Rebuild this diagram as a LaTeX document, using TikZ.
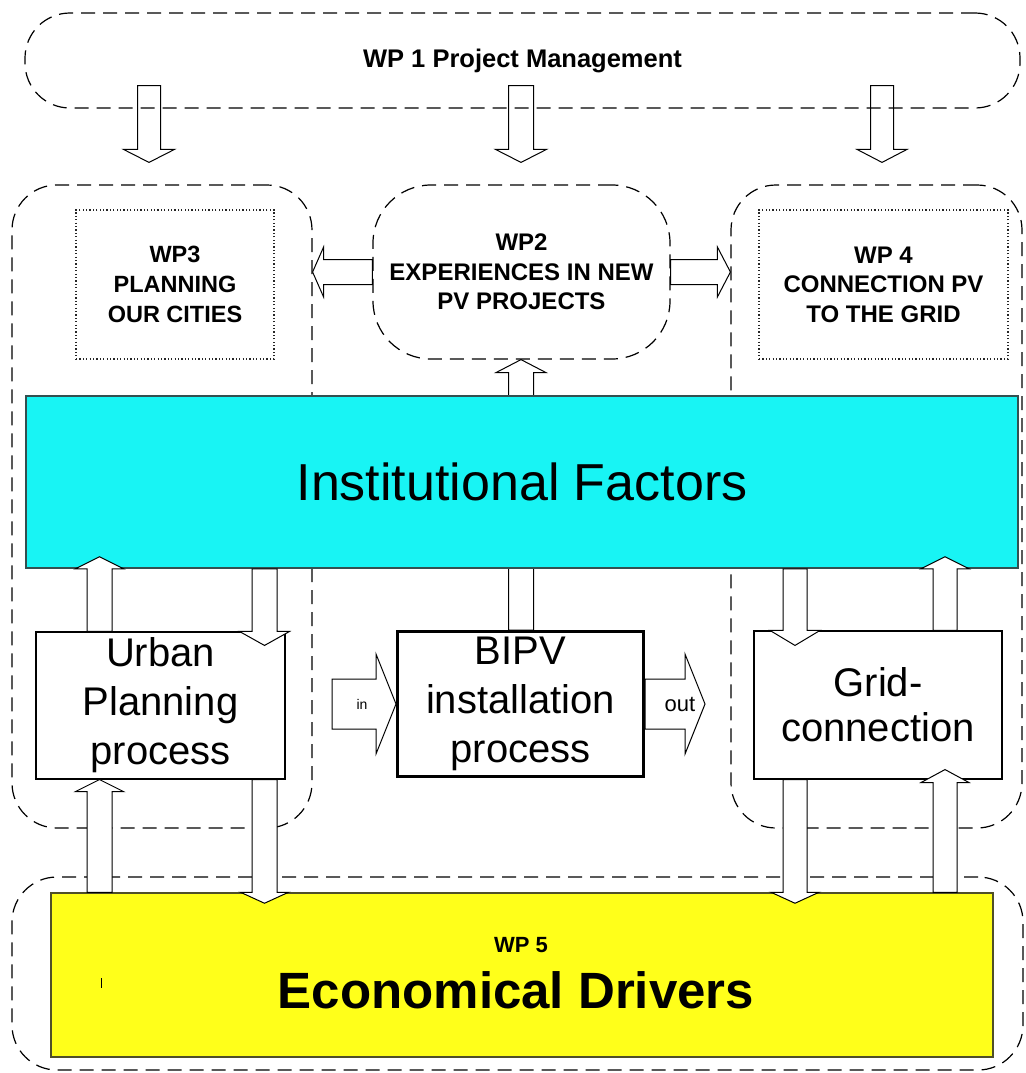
\documentclass[tikz,border=0pt]{standalone}
\usepackage{fontspec}
\setmainfont{Liberation Sans}
\usetikzlibrary{calc}
\pgfdeclarelayer{back}
\pgfsetlayers{back,main}
\definecolor{instcyan}{RGB}{24,244,244}
\definecolor{econyellow}{RGB}{255,255,26}
\definecolor{instedge}{RGB}{50,80,80}
\definecolor{econedge}{RGB}{80,80,40}
\newcommand\fsz[2]{\fontsize{#1}{#2}\selectfont}
% vertical block arrow: from, to, shaft half width, head half width, head length
\newcommand\varr[5]{%
  \draw[blk] let \p1=(#1), \p2=(#2), \n1={ifthenelse(\y2>\y1,1,-1)} in
    ({\x1-#3},\y1) -- ({\x1-#3},{\y2-(\n1)*#5}) -- ({\x1-#4},{\y2-(\n1)*#5}) -- (\x1,\y2)
    -- ({\x1+#4},{\y2-(\n1)*#5}) -- ({\x1+#3},{\y2-(\n1)*#5}) -- ({\x1+#3},\y1) -- cycle;}
% horizontal block arrow
\newcommand\harr[5]{%
  \draw[blk] let \p1=(#1), \p2=(#2), \n1={ifthenelse(\x2>\x1,1,-1)} in
    (\x1,{\y1+#3}) -- ({\x2-(\n1)*#5},{\y1+#3}) -- ({\x2-(\n1)*#5},{\y1+#4}) -- (\x2,\y1)
    -- ({\x2-(\n1)*#5},{\y1-#4}) -- ({\x2-(\n1)*#5},{\y1-#3}) -- (\x1,{\y1-#3}) -- cycle;}
\tikzset{
  box/.style={draw, inner sep=0pt, align=center},
  dashbox/.style={box, draw=black, line width=1.2pt, dash pattern=on 14pt off 8pt, rounded corners=45pt},
  dotbox/.style={box, draw=black!85, line width=1.1pt, dash pattern=on 1.2pt off 2.2pt},
  procbox/.style={box, fill=white, line width=1.1pt, draw=black},
  blk/.style={draw=black, fill=white, line width=1pt, line join=miter},
  wptext/.style={font=\bfseries\fsz{24}{29.5}},
  bigtext/.style={font=\fsz{40}{49}},
}
\begin{document}
\begin{tikzpicture}[x=1pt,y=-1pt]
\useasboundingbox (0,0) rectangle (1025,1073);
% column coordinates
\coordinate (cA) at (99.5,0);
\coordinate (cB) at (264.5,0);
\coordinate (cC) at (795,0);
\coordinate (cD) at (945,0);
\coordinate (cM) at (521,0);
\coordinate (c1) at (149,0);
\coordinate (c2) at (521,0);
\coordinate (c3) at (882,0);

% containers
\node[dashbox, minimum width=995pt, minimum height=95pt] (wp1) at (522.5,60.5)
  {\bfseries\fsz{25.5}{28}WP 1 Project Management};
\node[dashbox, minimum width=300pt, minimum height=643pt] (wp3c) at (162,506.5) {};
\node[dashbox, minimum width=291pt, minimum height=643pt] (wp4c) at (876.5,506.5) {};
\node[dashbox, minimum width=1011pt, minimum height=193pt] (wp5c) at (517.5,973.5) {};
\node[dashbox, rounded corners=58pt, minimum width=297pt, minimum height=174pt, wptext] (wp2) at (521.5,272)
  {WP2\\EXPERIENCES IN NEW\\PV PROJECTS};
\node[dotbox, minimum width=198pt, minimum height=149pt, font=\bfseries\fsz{23.5}{30}] (wp3) at (175,284.5)
  {WP3\\PLANNING\\OUR CITIES};
\node[dotbox, minimum width=249pt, minimum height=149pt, wptext] (wp4) at (883.5,284.5)
  {WP 4\\CONNECTION PV\\TO THE GRID};

% institutional factors
\node[box, fill=instcyan, draw=instedge, line width=1.5pt, minimum width=992pt, minimum height=172pt,
  font=\fsz{52}{60}] (inst) at (522,482) {Institutional Factors};

% process boxes
\node[procbox, minimum width=249pt, minimum height=147pt, bigtext] (urban) at (160.5,705.5)
  {Urban\\Planning\\process};
\node[procbox, line width=3pt, draw=black, minimum width=246pt, minimum height=145pt, bigtext] (bipv) at (520.5,704)
  {BIPV\\installation\\process};
\node[procbox, minimum width=248pt, minimum height=148pt, font=\fsz{40}{45}] (grid) at (878,705)
  {Grid-\\connection};

% economical drivers
\node[box, fill=econyellow, draw=econedge, line width=1.5pt, minimum width=942pt, minimum height=164pt] (econ) at (522,975) {};
\node[font=\bfseries\fsz{22}{26}, inner sep=0pt] (wp5t) at (521,945) {WP 5};
\node[font=\bfseries\fsz{51}{56}, inner sep=0pt] (econt) at (516,990) {Economical Drivers};
\draw[line width=1pt] (101,978) -- (101,988);

% free ends and arrow ends
\coordinate (intail) at (332,704);
\coordinate (outtip) at (705,704);
\coordinate (a1s) at ($(c1 |- wp1.south)+(0,-23)$);
\coordinate (a1t) at ($(c1 |- wp3c.north)+(0,-22)$);
\coordinate (a2s) at ($(c2 |- wp1.south)+(0,-23)$);
\coordinate (a2t) at ($(c2 |- wp2.north)+(0,-22)$);
\coordinate (a3s) at ($(c3 |- wp1.south)+(0,-23)$);
\coordinate (a3t) at ($(c3 |- wp4c.north)+(0,-22)$);
\coordinate (u1t) at ($(cA |- inst.south)+(0,-12)$);
\coordinate (u2t) at ($(cB |- urban.north)+(0,14)$);
\coordinate (u4t) at ($(cB |- econ.north)+(0,11)$);
\coordinate (g1t) at ($(cC |- grid.north)+(0,15)$);
\coordinate (g2t) at ($(cD |- inst.south)+(0,-12)$);
\coordinate (g3t) at ($(cD |- grid.south)+(0,-10)$);
\coordinate (g4t) at ($(cC |- econ.north)+(0,11)$);

% arrows behind boxes
\begin{pgfonlayer}{back}
  \varr{a1s}{a1t}{11.5}{25.5}{13}
  \varr{a2s}{a2t}{12.5}{25.5}{13}
  \varr{a3s}{a3t}{11.5}{25}{13}
  \varr{cM |- bipv.north}{cM |- wp2.south}{12.5}{25}{13}
\end{pgfonlayer}

% horizontal arrows
\harr{wp2.west}{wp3c.east}{12.5}{25}{11}
\harr{wp2.east}{wp4c.west}{12.5}{25}{13}
\harr{intail}{bipv.west}{25}{50}{20}
\harr{bipv.east}{outtip}{25}{50}{20}
\node[font=\fsz{14}{16}, inner sep=0pt] (intext) at (362,704) {in};
\node[font=\fsz{22}{26}, inner sep=0pt] (outtext) at (680,704) {out};

% vertical arrows around urban planning
\varr{cA |- urban.north}{u1t}{12.5}{24}{12}
\varr{cB |- inst.south}{u2t}{12.5}{25}{14}
\varr{cA |- econ.north}{cA |- urban.south}{12.5}{24}{12}
\varr{cB |- urban.south}{u4t}{12.5}{24}{11}
% vertical arrows around grid connection
\varr{cC |- inst.south}{g1t}{12}{25}{15}
\varr{cD |- grid.north}{g2t}{12}{24}{12}
\varr{cD |- econ.north}{g3t}{12}{24}{13}
\varr{cC |- grid.south}{g4t}{12}{24}{11}
\end{tikzpicture}
\end{document}
